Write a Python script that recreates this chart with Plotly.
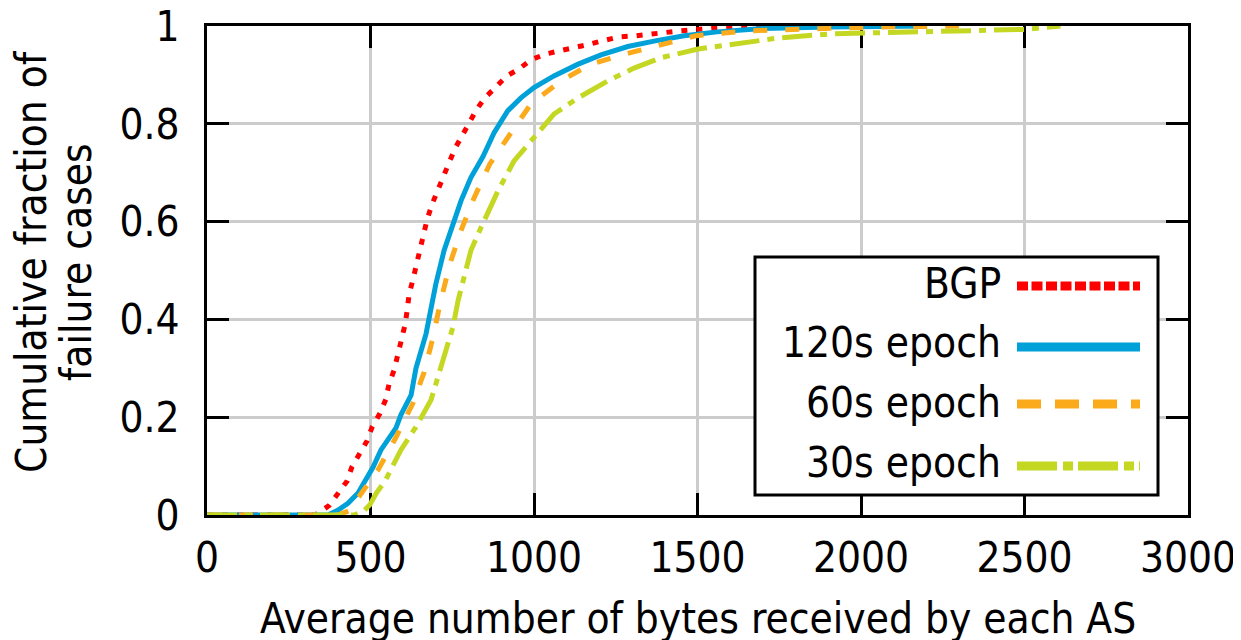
import plotly.graph_objects as go

# ---------------- data ----------------
series_names = ["BGP", "120s epoch", "60s epoch", "30s epoch"]

bgp_x = [0, 330, 373, 398, 428, 443, 465, 489, 505, 529, 547, 557, 572, 584, 593, 606,
         612, 618, 630, 639, 651, 661, 673, 688, 703, 719, 740, 758, 780, 801, 826, 850,
         884, 917, 954, 991, 1037, 1083, 1125, 1171, 1217, 1263, 1312, 1358, 1404, 1446,
         1550, 1650, 1850]
bgp_y = [0, 0, 0.019, 0.042, 0.069, 0.098, 0.124, 0.151, 0.180, 0.208, 0.237, 0.269,
         0.296, 0.329, 0.357, 0.390, 0.418, 0.451, 0.482, 0.510, 0.543, 0.576, 0.604,
         0.635, 0.661, 0.690, 0.720, 0.749, 0.776, 0.802, 0.831, 0.853, 0.876, 0.898,
         0.912, 0.931, 0.943, 0.949, 0.957, 0.963, 0.971, 0.978, 0.980, 0.984, 0.986,
         0.990, 0.996, 1.0, 1.0]

e120_x = [0, 370, 401, 431, 462, 486, 508, 532, 557, 578, 593, 610, 624, 639, 657, 670,
          679, 700, 725, 752, 777, 807, 844, 878, 920, 960, 1000, 1061, 1135, 1205, 1287,
          1367, 1459, 1560, 1700, 1900, 2200]
e120_y = [0, 0, 0.010, 0.024, 0.045, 0.071, 0.098, 0.133, 0.159, 0.178, 0.205, 0.225,
          0.245, 0.300, 0.337, 0.371, 0.402, 0.473, 0.541, 0.596, 0.643, 0.690, 0.733,
          0.782, 0.827, 0.853, 0.874, 0.898, 0.922, 0.941, 0.958, 0.969, 0.980, 0.988,
          0.995, 0.998, 1.0]

e60_x = [0, 400, 440, 462, 523, 578, 630, 664, 691, 713, 743, 777, 817, 865, 930, 991,
         1083, 1174, 1281, 1398, 1495, 1650, 1850, 2050, 2300]
e60_y = [0, 0, 0.010, 0.035, 0.092, 0.159, 0.229, 0.292, 0.363, 0.433, 0.514, 0.582,
         0.649, 0.718, 0.782, 0.841, 0.888, 0.922, 0.943, 0.963, 0.980, 0.990, 0.995,
         0.998, 1.0]

e30_x = [0, 450, 477, 498, 519, 545, 593, 639, 685, 716, 752, 768, 807, 838, 890, 939,
         1000, 1061, 1135, 1226, 1306, 1388, 1502, 1581, 1743, 1908, 2183, 2370, 2500,
         2610]
e30_y = [0, 0, 0.007, 0.021, 0.046, 0.070, 0.133, 0.180, 0.235, 0.302, 0.384, 0.439,
         0.541, 0.588, 0.663, 0.724, 0.771, 0.820, 0.853, 0.888, 0.914, 0.935, 0.953,
         0.960, 0.975, 0.984, 0.989, 0.991, 0.993, 1.0]

x_ticks = [0, 500, 1000, 1500, 2000, 2500, 3000]
y_ticks = [0, 0.2, 0.4, 0.6, 0.8, 1.0]
y_tick_labels = ["0", "0.2", "0.4", "0.6", "0.8", "1"]

x_title = "Average number of bytes received by each AS"
y_title_lines = ["Cumulative fraction of", "failure cases"]

# ---------------- styles ----------------
colors = ["#ff0000", "#00a0d8", "#faaa1a", "#c4d823"]
plot_dashes = ["6px,9px", "solid", "14px,18px", "30px,8px,7px,8px"]
legend_dashes = ["11px,3.5px", "solid", "24px,14px", "40px,6px,10px,5px"]
FONT = "DejaVu Sans Condensed, Liberation Sans, Arial, sans-serif"
FS = 42

# the page body has an 8px margin, so the figure starts at (8, 8) in the window
OFF = 8
W, H = 1241 - OFF, 640 - OFF
# plot area in window pixels: x 207..1188, y 26..515
PL, PRt, PT, PB = 207, 1188, 26, 515
L, R, T, B = PL - OFF, W - (PRt - OFF), PT - OFF, H - (PB - OFF)
PW, PH = PRt - PL, PB - PT


def px_x(p):
    return (p - PL) / PW


def px_y(p):
    return (PB - p) / PH


fig = go.Figure()
all_x = [bgp_x, e120_x, e60_x, e30_x]
all_y = [bgp_y, e120_y, e60_y, e30_y]
for name, xs, ys, c, d in zip(series_names, all_x, all_y, colors, plot_dashes):
    fig.add_trace(go.Scatter(x=xs, y=ys, mode="lines", name=name,
                             line=dict(color=c, width=5, dash=d),
                             showlegend=False, hoverinfo="skip"))

axis_common = dict(
    showline=True, linecolor="black", linewidth=3, mirror="allticks",
    ticks="inside", ticklen=22, tickwidth=3, tickcolor="black",
    showgrid=True, gridcolor="#cccccc", gridwidth=2.5, zeroline=False,
    tickfont=dict(family=FONT, size=FS, color="black"),
    layer="below traces", automargin=False, ticklabeloverflow="allow",
)
fig.update_xaxes(range=[0, 3000], tickvals=x_ticks, ticklabelstandoff=4, **axis_common)
fig.update_yaxes(range=[0, 1], tickvals=y_ticks, ticktext=y_tick_labels,
                 ticklabelstandoff=16, **axis_common)

annotations = []
shapes = []
# axis titles
annotations.append(dict(text=x_title, xref="paper", yref="paper", x=0.5, y=px_y(618),
                        xanchor="center", yanchor="middle", showarrow=False,
                        font=dict(family=FONT, size=FS, color="black")))
for line_txt, cx in zip(y_title_lines, [31, 76]):
    annotations.append(dict(text=line_txt, xref="paper", yref="paper", x=px_x(cx),
                            y=px_y(262), xanchor="center", yanchor="middle",
                            textangle=-90, showarrow=False,
                            font=dict(family=FONT, size=FS, color="black")))

# legend box
shapes.append(dict(type="rect", xref="paper", yref="paper",
                   x0=px_x(755), x1=px_x(1158), y0=px_y(495), y1=px_y(257),
                   fillcolor="white", line=dict(color="black", width=3), layer="above"))
text_rows = [283, 342, 402, 462]
line_rows = [286, 347, 404, 466]
for name, c, d, ty, ly in zip(series_names, colors, legend_dashes, text_rows, line_rows):
    annotations.append(dict(text=name, xref="paper", yref="paper", x=px_x(1003),
                            y=px_y(ty), xanchor="right", yanchor="middle",
                            showarrow=False,
                            font=dict(family=FONT, size=FS, color="black")))
    shapes.append(dict(type="line", xref="paper", yref="paper",
                       x0=px_x(1017), x1=px_x(1140), y0=px_y(ly), y1=px_y(ly),
                       line=dict(color=c, width=9, dash=d), layer="above"))

fig.update_layout(
    template="none",
    width=W, height=H,
    margin=dict(l=L, r=R, t=T, b=B, pad=0, autoexpand=False),
    plot_bgcolor="white", paper_bgcolor="white",
    annotations=annotations, shapes=shapes,
    showlegend=False,
)

fig.write_html("out.html")
